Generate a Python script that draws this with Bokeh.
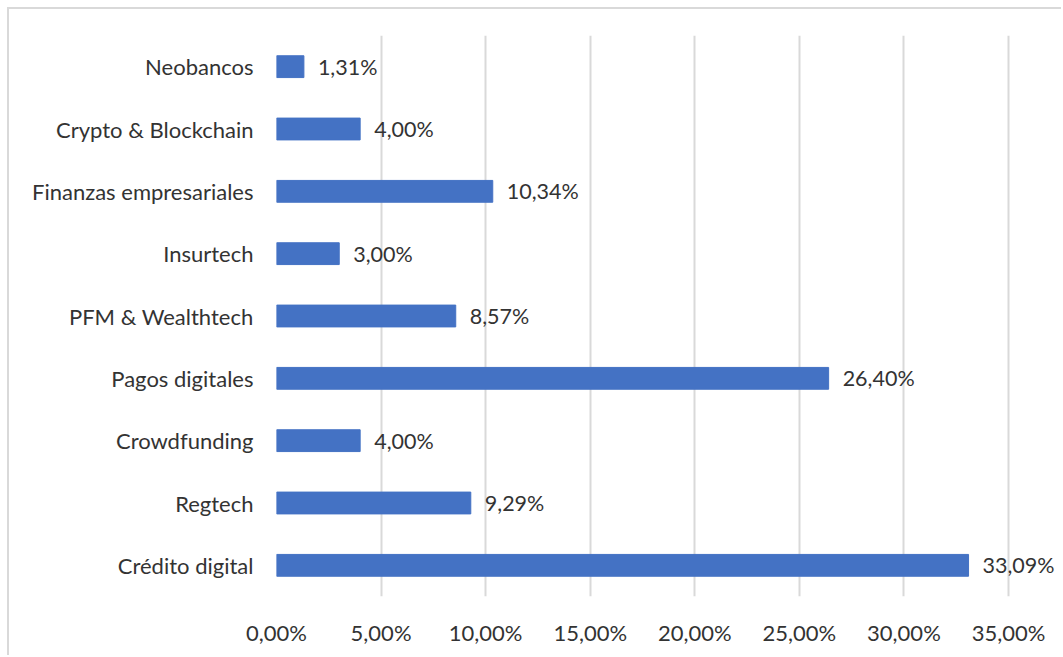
from bokeh.plotting import figure
from bokeh.models import ColumnDataSource, FixedTicker, Range1d, FactorRange, LabelSet
from bokeh.embed import file_html
from bokeh.resources import INLINE
from bokeh.core.properties import value

categories = ["Crédito digital", "Regtech", "Crowdfunding", "Pagos digitales",
              "PFM & Wealthtech", "Insurtech", "Finanzas empresariales",
              "Crypto & Blockchain", "Neobancos"]
values = [33.09, 9.29, 4.00, 26.40, 8.57, 3.00, 10.34, 4.00, 1.31]
tick_values = [0, 5, 10, 15, 20, 25, 30, 35]

def fmt(v):
    return f"{v:.2f}".replace(".", ",") + "%"

labels = [fmt(v) for v in values]
src = ColumnDataSource(dict(cat=categories, val=values, lab=labels))

FONT = "Lato"
TXT = "#333333"

# frame extends to the right edge so data labels are not clipped;
# 35 units span 732 px, the frame is 787 px wide
p = figure(width=1054, height=648, y_range=FactorRange(*categories, range_padding=0),
           x_range=Range1d(0, 35 * 787 / 732), output_backend="svg", toolbar_location=None,
           min_border_left=267, min_border_right=0, min_border_top=26, min_border_bottom=61)
p.margin = (7, 0, 0, 7)
p.styles = {"border-top": "2px solid #d9d9d9", "border-left": "2px solid #d9d9d9"}
p.outline_line_color = None

p.hbar(y="cat", right="val", left=0, height=0.35, color="#4472C4", source=src)
lbls = LabelSet(x="val", y="cat", text="lab", source=src, x_offset=14,
                text_align="left", text_baseline="middle", text_font=value(FONT),
                text_font_size=value("21.5px"), text_color=value(TXT))
p.add_layout(lbls)

p.xaxis.ticker = FixedTicker(ticks=tick_values)
p.xaxis.major_label_overrides = {t: fmt(t) for t in tick_values}
p.xaxis.axis_line_color = None
p.xaxis.major_tick_line_color = None
p.xaxis.minor_tick_line_color = None
p.xaxis.major_label_standoff = 16
p.yaxis.axis_line_color = None
p.yaxis.major_tick_line_color = None
p.yaxis.major_label_standoff = 17
for ax in (p.xaxis, p.yaxis):
    ax.major_label_text_font = FONT
    ax.major_label_text_font_size = "22px"
    ax.major_label_text_color = TXT

p.xgrid.grid_line_color = "#d9d9d9"
p.xgrid.grid_line_width = 2
p.ygrid.grid_line_color = None

open("out.html", "w").write(file_html(p, INLINE))
